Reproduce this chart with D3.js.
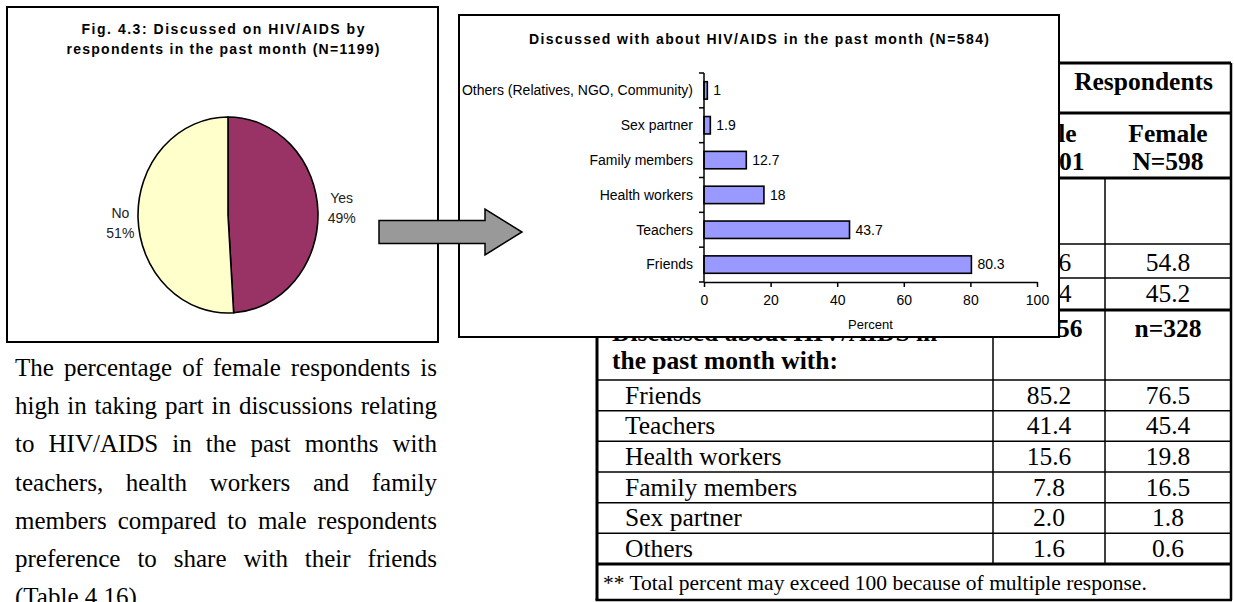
<!DOCTYPE html>
<html><head><meta charset="utf-8">
<script src="https://cdn.jsdelivr.net/npm/d3@7"></script>
<style>html,body{margin:0;padding:0;background:#fff;}svg{display:block;}</style>
</head><body>
<svg id="c" width="1234" height="602"></svg>
<script>
// ---------------- DATA ----------------
const pieLabels = ["Yes", "No"];
const pieValues = [49, 51];
const pieTitleLines = ["Fig. 4.3: Discussed on HIV/AIDS by", "respondents in the past month (N=1199)"];

const barTitle = "Discussed with about HIV/AIDS in the past month (N=584)";
const barCategories = ["Others (Relatives, NGO, Community)", "Sex partner", "Family members", "Health workers", "Teachers", "Friends"];
const barValues = [1, 1.9, 12.7, 18, 43.7, 80.3];
const xTicks = [0, 20, 40, 60, 80, 100];
const xAxisTitle = "Percent";

const tableRows = ["Friends", "Teachers", "Health workers", "Family members", "Sex partner", "Others"];
const maleValues = [85.2, 41.4, 15.6, 7.8, 2.0, 1.6];
const femaleValues = [76.5, 45.4, 19.8, 16.5, 1.8, 0.6];
const discussedMale = [42.6, 57.4];
const discussedFemale = [54.8, 45.2];
const groupHeaders = ["Male", "Female"];
const groupN = ["N=601", "N=598"];
const subN = ["n=256", "n=328"];
const footnote = "** Total percent may exceed 100 because of multiple response.";

const paragraphLines = [
  "The percentage of female respondents is",
  "high in taking part in discussions relating",
  "to HIV/AIDS in the past months with",
  "teachers, health workers and family",
  "members compared to male respondents",
  "preference to share with their friends",
  "(Table 4.16)."
];

// ---------------- SETUP ----------------
const SANS = "'Liberation Sans', Arial, sans-serif";
const SERIF = "'Liberation Serif', 'Times New Roman', serif";
const svg = d3.select("#c");
const f1 = d3.format(".1f");
const BOX = {x: 459, y: 15, w: 600, h: 322};   // bar-chart panel (drawn over the table)

// ---------------- TABLE ----------------
const T = {left: 597, c1: 993, c2: 1105, right: 1231,
  top: 63, hdr1: 113, hdr2: 178, yes: 244, no: 278, sub: 310, body: 380, foot: 564, bottom: 600};
const tg = svg.append("g");
const rowBand = d3.scaleBand().domain(tableRows).range([T.body, T.foot]);
function hline(y, x1, x2, w) {
  tg.append("line").attr("x1", x1).attr("x2", x2).attr("y1", y).attr("y2", y).attr("stroke", "#000").attr("stroke-width", w);
}
function vline(x, y1, y2, w) {
  tg.append("line").attr("x1", x).attr("x2", x).attr("y1", y1).attr("y2", y2).attr("stroke", "#000").attr("stroke-width", w);
}
[T.top, T.hdr1, T.hdr2, T.sub].forEach(y => hline(y, BOX.x + BOX.w, T.right, 3));
[T.yes, T.no].forEach(y => hline(y, BOX.x + BOX.w, T.right, 1.5));
hline(T.body, T.left, T.right, 1.5);
tableRows.slice(1).forEach(r => hline(rowBand(r), T.left, T.right, 1.5));
hline(T.foot, T.left, T.right, 3);
hline(T.bottom, T.left - 1.5, T.right + 1, 2.5);
vline(T.left, T.top, T.bottom, 3);
vline(T.right, T.top, T.bottom, 2.5);
vline(T.c1, T.top, T.foot, 1.5);
vline(T.c2, T.hdr2, T.foot, 1.5);

const colMid = [(T.c1 + T.c2) / 2, (T.c2 + T.right) / 2];
function ttext(x, y, s, opts = {}) {
  return tg.append("text").attr("x", x).attr("y", y).attr("font-family", SERIF)
    .attr("font-size", opts.size || 25.5).attr("font-weight", opts.bold ? "bold" : "normal")
    .attr("text-anchor", opts.anchor || "start").attr("fill", "#000").text(s);
}
// keep only the characters of a text that stay visible to the right of the bar panel
function visibleTail(sel) {
  const node = sel.node(), s = node.textContent, edge = BOX.x + BOX.w;
  const bb = node.getBBox();
  let k = s.length;
  for (let i = 0; i < s.length; i++) {
    const e = node.getExtentOfChar(i);
    if (e.x + e.width > edge + 2) { k = i; break; }
  }
  sel.attr("text-anchor", "end").attr("x", bb.x + bb.width).text(s.slice(k));
}
ttext(1213, 90, "Respondents", {bold: true, anchor: "end"});
groupHeaders.forEach((h, i) => {
  const a = ttext(colMid[i], 142, h, {bold: true, anchor: "middle"});
  const b = ttext(colMid[i], 170, groupN[i], {bold: true, anchor: "middle"});
  if (i === 0) { visibleTail(a); visibleTail(b); }
});
discussedMale.forEach((v, i) => visibleTail(ttext(colMid[0], [271, 302][i], f1(v), {anchor: "middle"})));
discussedFemale.forEach((v, i) => ttext(colMid[1], [271, 302][i], f1(v), {anchor: "middle"}));
subN.forEach((s, i) => {
  const t = ttext(colMid[i], 337, s, {bold: true, anchor: "middle"});
  if (i === 0) visibleTail(t);
});
ttext(612, 341, "Discussed about HIV/AIDS in", {bold: true});
ttext(612, 369, "the past month with:", {bold: true});
tableRows.forEach((r, i) => {
  const yb = rowBand(r) + rowBand.bandwidth() - 7;
  ttext(625, yb, r);
  ttext(colMid[0], yb, f1(maleValues[i]), {anchor: "middle"});
  ttext(colMid[1], yb, f1(femaleValues[i]), {anchor: "middle"});
});
ttext(603, T.bottom - 10, footnote, {size: 21.5});

// ---------------- PARAGRAPH ----------------
const P = {left: 15, width: 422, top: 376, lead: 38.2};
const para = svg.append("g");
paragraphLines.forEach((line, i) => {
  const t = para.append("text").attr("y", P.top + i * P.lead).attr("font-family", SERIF)
    .attr("font-size", 25).attr("fill", "#000");
  if (i === paragraphLines.length - 1) { t.attr("x", P.left).text(line); return; }
  const words = line.split(" ");
  const spans = words.map(w => t.append("tspan").text(w));
  const widths = spans.map(s => s.node().getComputedTextLength());
  const gap = (P.width - d3.sum(widths)) / (words.length - 1);
  let x = P.left;
  spans.forEach((s, j) => { s.attr("x", x); x += widths[j] + gap; });
});

// ---------------- PIE PANEL ----------------
svg.append("rect").attr("x", 7).attr("y", 7).attr("width", 431).attr("height", 335)
  .attr("fill", "#fff").attr("stroke", "#000").attr("stroke-width", 2);
pieTitleLines.forEach((l, i) => {
  svg.append("text").attr("x", 223).attr("y", [34, 54][i]).attr("text-anchor", "middle")
    .attr("font-family", SANS).attr("font-weight", "bold").attr("font-size", 14)
    .attr("textLength", [283, 313][i]).attr("lengthAdjust", "spacing").attr("fill", "#000").text(l);
});
const pieColors = ["#993366", "#FFFFCC"];
const pc = {x: 228, y: 215, rx: 90, ry: 98};
const pieData = d3.pie().sort(null).value(d => d)(pieValues);
const arc = d3.arc().innerRadius(0).outerRadius(pc.rx);
const pieG = svg.append("g").attr("transform", `translate(${pc.x},${pc.y}) scale(1,${pc.ry / pc.rx})`);
pieG.selectAll("path").data(pieData).join("path").attr("d", arc)
  .attr("fill", (d, i) => pieColors[i]).attr("stroke", "#000").attr("stroke-width", 1.6)
  .attr("vector-effect", "non-scaling-stroke");
const labelArc = d3.arc().innerRadius(pc.rx * 1.23).outerRadius(pc.rx * 1.23);
const labelNudge = [[3, -3], [3, 4]];
pieData.forEach((d, i) => {
  const [cx, cy] = labelArc.centroid(d);
  const x = pc.x + cx + labelNudge[i][0], y = pc.y + cy * pc.ry / pc.rx + labelNudge[i][1];
  const t = svg.append("text").attr("text-anchor", "middle").attr("font-family", SANS)
    .attr("font-size", 14).attr("fill", "#222");
  t.append("tspan").attr("x", x).attr("y", y - 5).text(pieLabels[i]);
  t.append("tspan").attr("x", x).attr("y", y + 15).text(Math.round(d.data) + "%");
});

// ---------------- BAR PANEL ----------------
svg.append("rect").attr("x", BOX.x).attr("y", BOX.y).attr("width", BOX.w).attr("height", BOX.h)
  .attr("fill", "#fff").attr("stroke", "#000").attr("stroke-width", 2);
svg.append("text").attr("x", 759).attr("y", 44).attr("text-anchor", "middle")
  .attr("font-family", SANS).attr("font-weight", "bold").attr("font-size", 14)
  .attr("textLength", 460).attr("lengthAdjust", "spacing").attr("fill", "#000").text(barTitle);

const x = d3.scaleLinear().domain([0, 100]).range([704, 1037]);
const y = d3.scaleBand().domain(barCategories).range([73, 282]).paddingInner(0.5).paddingOuter(0.25);
const bg = svg.append("g");
bg.selectAll("rect.bar").data(barCategories).join("rect").attr("class", "bar")
  .attr("x", x(0)).attr("y", c => y(c)).attr("width", (c, i) => x(barValues[i]) - x(0))
  .attr("height", y.bandwidth()).attr("fill", "#9999FF").attr("stroke", "#000").attr("stroke-width", 1.6);
bg.append("line").attr("x1", x(0)).attr("x2", x(0)).attr("y1", y.range()[0]).attr("y2", y.range()[1])
  .attr("stroke", "#000").attr("stroke-width", 1.5);
d3.range(barCategories.length + 1).forEach(i => {
  const yy = y.range()[0] + i * y.step();
  bg.append("line").attr("x1", x(0) - 5).attr("x2", x(0)).attr("y1", yy).attr("y2", yy)
    .attr("stroke", "#000").attr("stroke-width", 1.5);
});
bg.selectAll("text.cat").data(barCategories).join("text").attr("class", "cat")
  .attr("x", x(0) - 11).attr("y", c => y(c) + y.bandwidth() / 2).attr("dy", "0.35em")
  .attr("text-anchor", "end").attr("font-family", SANS).attr("font-size", 14).attr("fill", "#000").text(c => c);
bg.selectAll("text.val").data(barCategories).join("text").attr("class", "val")
  .attr("x", (c, i) => x(barValues[i]) + 6).attr("y", c => y(c) + y.bandwidth() / 2).attr("dy", "0.35em")
  .attr("font-family", SANS).attr("font-size", 14).attr("fill", "#000").text((c, i) => barValues[i]);
const xa = bg.append("g").attr("transform", `translate(0,${y.range()[1]})`)
  .call(d3.axisBottom(x).tickValues(xTicks).tickSize(5).tickSizeOuter(0).tickPadding(8));
xa.attr("font-family", SANS).attr("font-size", 14);
xa.selectAll("path,line").attr("stroke", "#000").attr("stroke-width", 1.5);
xa.selectAll("text").attr("fill", "#000");
bg.append("text").attr("x", (x.range()[0] + x.range()[1]) / 2).attr("y", 329).attr("text-anchor", "middle")
  .attr("font-family", SANS).attr("font-size", 13).attr("fill", "#000").text(xAxisTitle);

// ---------------- ARROW ----------------
const A = {x0: 379, x1: 485, tip: 522, cy: 232, shaft: 11.5, head: 23};
svg.append("path")
  .attr("d", `M${A.x0},${A.cy - A.shaft}H${A.x1}V${A.cy - A.head}L${A.tip},${A.cy}L${A.x1},${A.cy + A.head}V${A.cy + A.shaft}H${A.x0}Z`)
  .attr("fill", "#999999").attr("stroke", "#000").attr("stroke-width", 1.5);
</script>
</body></html>
